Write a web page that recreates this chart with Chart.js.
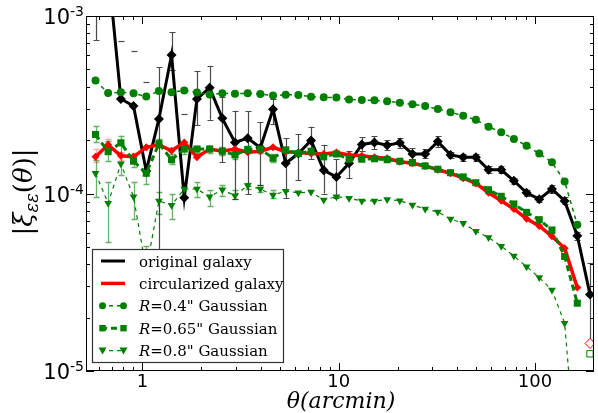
<!DOCTYPE html>
<html>
<head>
<meta charset="utf-8">
<script src="https://cdn.jsdelivr.net/npm/chart.js@4.4.0/dist/chart.umd.min.js"></script>
<style>
html,body{margin:0;padding:0;background:#fff;overflow:hidden;}
#wrap{width:600px;height:413px;}
</style>
</head>
<body>
<div id="wrap"><canvas id="myChart" width="600" height="413"></canvas></div>
<script>
// angular bins (arcmin)
const theta = [0.577,0.669,0.777,0.901,1.046,1.214,1.408,1.634,1.896,2.200,
  2.554,2.963,3.439,3.990,4.630,5.373,6.233,7.234,8.394,9.739,
  11.30,13.12,15.22,17.66,20.49,23.78,27.59,32.01,37.15,43.11,
  50.02,58.04,67.35,78.15,90.68,105.2,122.1,141.7,164.4,190.8];

// original galaxy
const original = [2.5e-3,1.85e-3,3.41e-4,3.11e-4,1.34e-4,2.63e-4,6.03e-4,9.47e-5,3.41e-4,3.94e-4,
  2.65e-4,1.94e-4,2.05e-4,1.81e-4,2.98e-4,1.48e-4,1.68e-4,1.99e-4,1.35e-4,1.24e-4,
  1.48e-4,1.89e-4,1.94e-4,1.87e-4,1.93e-4,1.67e-4,1.67e-4,1.96e-4,1.65e-4,1.60e-4,
  1.60e-4,1.36e-4,1.36e-4,1.18e-4,1.01e-4,9.29e-5,1.06e-4,9.08e-5,5.78e-5,2.70e-5];
const originalLo = [7.32e-4,null,null,null,null,2.5e-5,4.96e-4,null,2.43e-4,2.60e-4,
  1.50e-4,9.31e-5,9.93e-5,1.11e-4,2.46e-4,9.40e-5,1.19e-4,1.56e-4,1.00e-4,9.40e-5,
  1.22e-4,1.74e-4,1.77e-4,1.75e-4,1.80e-4,1.56e-4,1.58e-4,1.83e-4,1.58e-4,1.53e-4,
  1.53e-4,1.30e-4,1.30e-4,1.13e-4,9.7e-5,8.9e-5,1.01e-4,8.7e-5,5.5e-5,1.49e-5];
const originalHi = [5e-3,null,7.23e-4,6.39e-4,4.25e-4,5.13e-4,8.09e-4,2.79e-4,4.92e-4,5.25e-4,
  3.51e-4,2.93e-4,2.90e-4,2.52e-4,3.41e-4,2.05e-4,2.15e-4,2.38e-4,1.88e-4,1.56e-4,
  1.74e-4,2.08e-4,2.11e-4,2.00e-4,2.06e-4,1.80e-4,1.78e-4,2.11e-4,1.72e-4,1.67e-4,
  1.67e-4,1.42e-4,1.42e-4,1.23e-4,1.05e-4,9.7e-5,1.11e-4,9.5e-5,6.1e-5,4.07e-5];

// circularized galaxy
const circular = [1.61e-4,1.88e-4,1.63e-4,1.61e-4,1.82e-4,1.88e-4,1.74e-4,1.94e-4,1.60e-4,1.78e-4,
  1.73e-4,1.78e-4,1.71e-4,1.73e-4,1.82e-4,1.72e-4,1.70e-4,1.68e-4,1.67e-4,1.70e-4,
  1.65e-4,1.63e-4,1.60e-4,1.58e-4,1.51e-4,1.48e-4,1.43e-4,1.36e-4,1.30e-4,1.22e-4,
  1.14e-4,1.01e-4,9.10e-5,8.18e-5,7.20e-5,6.56e-5,5.74e-5,4.91e-5,2.95e-5,null];
const circularLo = [1.50e-4,1.76e-4,1.55e-4,1.53e-4];
const circularHi = [1.78e-4,2.03e-4,1.72e-4,1.70e-4];
const circularNeg = [null,null,null,null,null,null,null,null,null,null,
  null,null,null,null,null,null,null,null,null,null,
  null,null,null,null,null,null,null,null,null,null,
  null,null,null,null,null,null,null,null,null,1.43e-5];

// R=0.4" Gaussian
const gauss04 = [4.33e-4,3.68e-4,3.72e-4,3.67e-4,3.52e-4,3.78e-4,3.72e-4,3.80e-4,3.71e-4,3.61e-4,
  3.67e-4,3.65e-4,3.67e-4,3.63e-4,3.56e-4,3.60e-4,3.59e-4,3.51e-4,3.48e-4,3.47e-4,
  3.39e-4,3.36e-4,3.35e-4,3.31e-4,3.25e-4,3.18e-4,3.11e-4,2.99e-4,2.87e-4,2.74e-4,
  2.60e-4,2.38e-4,2.21e-4,2.03e-4,1.86e-4,1.68e-4,1.50e-4,1.17e-4,6.67e-5,null];

// R=0.65" Gaussian
const gauss065 = [2.15e-4,1.72e-4,1.93e-4,1.52e-4,1.30e-4,1.91e-4,1.55e-4,1.78e-4,1.78e-4,1.78e-4,
  1.73e-4,1.65e-4,1.77e-4,1.78e-4,1.58e-4,1.76e-4,1.68e-4,1.73e-4,1.61e-4,1.67e-4,
  1.56e-4,1.56e-4,1.57e-4,1.55e-4,1.52e-4,1.49e-4,1.43e-4,1.37e-4,1.31e-4,1.24e-4,
  1.15e-4,1.05e-4,9.64e-5,8.73e-5,7.83e-5,7.12e-5,6.23e-5,4.42e-5,2.41e-5,null];
const gauss065Lo = [1.94e-4,1.53e-4,1.67e-4,1.41e-4,1.13e-4,1.83e-4,1.47e-4,1.67e-4,1.70e-4,1.70e-4,
  1.64e-4,1.57e-4,1.69e-4,1.70e-4,1.51e-4,1.69e-4];
const gauss065Hi = [2.41e-4,1.98e-4,2.12e-4,1.63e-4,1.37e-4,2.03e-4,1.67e-4,1.90e-4,1.86e-4,1.86e-4,
  1.82e-4,1.74e-4,1.85e-4,1.86e-4,1.66e-4,1.83e-4];
const gauss065Neg = [null,null,null,null,null,null,null,null,null,null,
  null,null,null,null,null,null,null,null,null,null,
  null,null,null,null,null,null,null,null,null,null,
  null,null,null,null,null,null,null,null,null,1.25e-5];

// R=0.8" Gaussian
const gauss08 = [1.30e-4,8.81e-5,1.47e-4,9.59e-5,3.71e-5,9.08e-5,8.58e-5,1.06e-4,1.06e-4,9.59e-5,
  1.05e-4,9.72e-5,1.11e-4,1.06e-4,9.80e-5,1.03e-4,1.01e-4,1.02e-4,9.19e-5,9.59e-5,
  9.40e-5,9.08e-5,9.08e-5,9.25e-5,9.11e-5,8.62e-5,8.18e-5,7.87e-5,7.18e-5,6.79e-5,
  6.13e-5,5.65e-5,5.05e-5,4.44e-5,3.87e-5,3.36e-5,2.86e-5,1.86e-5,2.6e-6,null];
const gauss08Lo = [9.52e-5,5.33e-5,1.27e-4,7.18e-5,2.5e-5,7.66e-5,7.18e-5,9.68e-5,9.52e-5,8.53e-5,
  9.72e-5,9.31e-5,1.06e-4,1.02e-4,9.45e-5];
const gauss08Hi = [1.54e-4,1.16e-4,1.65e-4,1.16e-4,5.03e-5,1.02e-4,9.93e-5,1.16e-4,1.16e-4,1.04e-4,
  1.11e-4,1.04e-4,1.15e-4,1.11e-4,1.05e-4];

// axes
const xMin = 0.516, xMax = 200;
const yMin = 1e-5, yMax = 1e-3;
const xTickVals = [1, 10, 100];
const xTickText = ['1', '10', '100'];
const yTickVals = [1e-5, 1e-4, 1e-3];
const yTickExp = ['-5', '-4', '-3'];
const minorSteps = [2, 3, 4, 5, 6, 7, 8, 9];

const green = '#007f00';

function pts(vals) {
  return theta.map((t, i) => ({x: t, y: vals[i] == null ? null : vals[i]}));
}

const errorSets = [
  {lo: gauss08Lo, hi: gauss08Hi, color: 'rgba(0,128,0,0.6)', width: 1.3},
  {lo: gauss065Lo, hi: gauss065Hi, color: 'rgba(0,128,0,0.6)', width: 1.3},
  {lo: circularLo, hi: circularHi, color: 'rgba(255,0,0,0.35)', width: 1.3},
  {lo: originalLo, hi: originalHi, color: 'rgba(30,30,30,0.8)', width: 1.2}
];

// error bars (matplotlib style: no bar when lower end is not positive, cap kept)
const errorBars = {
  id: 'errorBars',
  beforeDatasetsDraw(chart) {
    const {ctx, chartArea: a, scales} = chart;
    ctx.save();
    ctx.beginPath();
    ctx.rect(a.left, a.top, a.right - a.left, a.bottom - a.top);
    ctx.clip();
    errorSets.forEach(s => {
      ctx.strokeStyle = s.color;
      ctx.lineWidth = s.width;
      theta.forEach((t, i) => {
        const lo = s.lo[i], hi = s.hi[i];
        if (lo == null && hi == null) return;
        const xp = Math.round(scales.x.getPixelForValue(t)) + 0.5;
        ctx.beginPath();
        if (lo != null && hi != null) {
          ctx.moveTo(xp, scales.y.getPixelForValue(lo));
          ctx.lineTo(xp, scales.y.getPixelForValue(hi));
        }
        [lo, hi].forEach(v => {
          if (v == null) return;
          const yp = Math.round(scales.y.getPixelForValue(v)) + 0.5;
          ctx.moveTo(xp - 3, yp);
          ctx.lineTo(xp + 3, yp);
        });
        ctx.stroke();
      });
    });
    ctx.restore();
  }
};

function marker(ctx, style, x, y, r) {
  ctx.beginPath();
  if (style === 'circle') {
    ctx.arc(x, y, r, 0, Math.PI * 2);
  } else if (style === 'square') {
    ctx.rect(x - r, y - r, 2 * r, 2 * r);
  } else if (style === 'tri') {
    ctx.moveTo(x - r, y - r * 0.8);
    ctx.lineTo(x + r, y - r * 0.8);
    ctx.lineTo(x, y + r);
    ctx.closePath();
  }
  ctx.fill();
}

function drawParts(ctx, parts, x, y) {
  let cx = x;
  parts.forEach(p => {
    ctx.font = p.font;
    ctx.fillText(p.t, cx, y + (p.dy || 0));
    cx += ctx.measureText(p.t).width;
  });
  return cx;
}
function partsWidth(ctx, parts) {
  let w = 0;
  parts.forEach(p => { ctx.font = p.font; w += ctx.measureText(p.t).width; });
  return w;
}

const legendRows = [
  {label: 'original galaxy', color: '#000', width: 3},
  {label: 'circularized galaxy', color: '#ff0000', width: 3.5},
  {label: '=0.4" Gaussian', color: green, width: 1.5, dash: [4, 4], mark: 'circle', r: 3.5},
  {label: '=0.65" Gaussian', color: green, width: 3, dash: [6, 4], mark: 'square', r: 3.2},
  {label: '=0.8" Gaussian', color: green, width: 1.2, dash: [4, 4], mark: 'tri', r: 4}
];

const decor = {
  id: 'decor',
  afterDraw(chart) {
    const {ctx, chartArea: a, scales} = chart;
    ctx.save();
    // frame
    ctx.strokeStyle = '#000';
    ctx.lineWidth = 1;
    ctx.strokeRect(a.left + 0.5, a.top + 0.5, a.right - a.left - 1, a.bottom - a.top - 1);

    // inward ticks
    ctx.beginPath();
    const decadesX = [0.1, 1, 10, 100];
    decadesX.forEach(d => {
      minorSteps.forEach(m => {
        const v = d * m;
        if (v <= xMin || v >= xMax) return;
        const xp = Math.round(scales.x.getPixelForValue(v)) + 0.5;
        ctx.moveTo(xp, a.bottom); ctx.lineTo(xp, a.bottom - 4);
        ctx.moveTo(xp, a.top); ctx.lineTo(xp, a.top + 4);
      });
    });
    xTickVals.forEach(v => {
      const xp = Math.round(scales.x.getPixelForValue(v)) + 0.5;
      ctx.moveTo(xp, a.bottom); ctx.lineTo(xp, a.bottom - 8);
      ctx.moveTo(xp, a.top); ctx.lineTo(xp, a.top + 8);
    });
    [1e-5, 1e-4].forEach(d => {
      minorSteps.forEach(m => {
        const yp = Math.round(scales.y.getPixelForValue(d * m)) + 0.5;
        ctx.moveTo(a.left, yp); ctx.lineTo(a.left + 4, yp);
        ctx.moveTo(a.right, yp); ctx.lineTo(a.right - 4, yp);
      });
    });
    yTickVals.forEach(v => {
      const yp = Math.round(scales.y.getPixelForValue(v)) + 0.5;
      ctx.moveTo(a.left, yp); ctx.lineTo(a.left + 8, yp);
      ctx.moveTo(a.right, yp); ctx.lineTo(a.right - 8, yp);
    });
    ctx.stroke();

    // tick labels
    ctx.fillStyle = '#000';
    ctx.textBaseline = 'alphabetic';
    ctx.textAlign = 'center';
    ctx.font = '18px "DejaVu Sans"';
    xTickVals.forEach((v, i) => {
      ctx.fillText(xTickText[i], scales.x.getPixelForValue(v), a.bottom + 16);
    });
    ctx.textAlign = 'left';
    yTickVals.forEach((v, i) => {
      const yp = scales.y.getPixelForValue(v);
      const parts = [
        {t: '10', font: '21px "DejaVu Sans"', dy: 8},
        {t: yTickExp[i], font: '14px "DejaVu Sans"', dy: 0}
      ];
      const w = partsWidth(ctx, parts);
      drawParts(ctx, parts, a.left - 2 - w, yp);
    });

    // legend
    const bx = 92.5, by = 249.5, bw = 191, bh = 113;
    ctx.fillStyle = '#fff';
    ctx.fillRect(bx, by, bw, bh);
    ctx.strokeStyle = '#333';
    ctx.lineWidth = 1.2;
    ctx.strokeRect(bx, by, bw, bh);
    legendRows.forEach((row, k) => {
      const ry = 261 + k * 22.4;
      ctx.strokeStyle = row.color;
      ctx.lineWidth = row.width;
      ctx.setLineDash(row.dash || []);
      ctx.beginPath();
      ctx.moveTo(101, ry); ctx.lineTo(125, ry);
      ctx.stroke();
      ctx.setLineDash([]);
      if (row.mark) {
        ctx.fillStyle = row.color;
        marker(ctx, row.mark, 102.5, ry, row.r);
        marker(ctx, row.mark, 123.5, ry, row.r);
      }
      ctx.fillStyle = '#000';
      const parts = row.mark
        ? [{t: 'R', font: 'italic 15px "DejaVu Serif"'}, {t: row.label, font: '15px "DejaVu Serif"'}]
        : [{t: row.label, font: '15px "DejaVu Serif"'}];
      drawParts(ctx, parts, 139, ry + 5.5);
    });

    // axis titles
    ctx.fillStyle = '#000';
    ctx.font = 'italic 22px "DejaVu Serif"';
    ctx.textAlign = 'center';
    ctx.fillText('\u03B8(arcmin)', 341, 408);

    ctx.save();
    ctx.translate(32, 192);
    ctx.rotate(-Math.PI / 2);
    ctx.textAlign = 'left';
    const yParts = [
      {t: '|', font: '26px "DejaVu Serif"'},
      {t: '\u03BE', font: 'italic 26px "DejaVu Serif"'},
      {t: '\u03B5\u03B5', font: 'italic 18px "DejaVu Serif"', dy: 6},
      {t: '(', font: '26px "DejaVu Serif"'},
      {t: '\u03B8', font: 'italic 26px "DejaVu Serif"'},
      {t: ')|', font: '26px "DejaVu Serif"'}
    ];
    const yw = partsWidth(ctx, yParts);
    drawParts(ctx, yParts, -yw / 2, 0);
    ctx.restore();

    ctx.restore();
  }
};

const ctx = document.getElementById('myChart');
new Chart(ctx, {
  type: 'line',
  data: {
    datasets: [
      {
        label: 'R=0.8" Gaussian', data: pts(gauss08), order: 1,
        borderColor: green, borderWidth: 1.2, borderDash: [4, 4],
        pointStyle: 'triangle', rotation: 180, pointRadius: 4.5,
        pointBackgroundColor: green, pointBorderColor: green, pointBorderWidth: 0
      },
      {
        label: 'R=0.65" Gaussian', data: pts(gauss065), order: 2,
        borderColor: green, borderWidth: 3, borderDash: [6, 4],
        pointStyle: 'rect', pointRadius: 5,
        pointBackgroundColor: green, pointBorderColor: green, pointBorderWidth: 0
      },
      {
        label: 'R=0.65" Gaussian (negative)', data: pts(gauss065Neg), order: 2,
        showLine: false, pointStyle: 'rect', pointRadius: 4.5,
        pointBackgroundColor: '#fff', pointBorderColor: green, pointBorderWidth: 1
      },
      {
        label: 'R=0.4" Gaussian', data: pts(gauss04), order: 3,
        borderColor: green, borderWidth: 1.5, borderDash: [4, 4],
        pointStyle: 'circle', pointRadius: 4,
        pointBackgroundColor: green, pointBorderColor: green, pointBorderWidth: 0
      },
      {
        label: 'circularized galaxy', data: pts(circular), order: 4,
        borderColor: '#ff0000', borderWidth: 3.5,
        pointStyle: 'rectRot', pointRadius: 4,
        pointBackgroundColor: '#ff0000', pointBorderColor: '#ff0000', pointBorderWidth: 0
      },
      {
        label: 'circularized galaxy (negative)', data: pts(circularNeg), order: 4,
        showLine: false, pointStyle: 'rectRot', pointRadius: 5,
        pointBackgroundColor: '#fff', pointBorderColor: '#ff0000', pointBorderWidth: 1
      },
      {
        label: 'original galaxy', data: pts(original), order: 5,
        borderColor: '#000', borderWidth: 3,
        pointStyle: 'rectRot', pointRadius: 5,
        pointBackgroundColor: '#000', pointBorderColor: '#000', pointBorderWidth: 0
      }
    ]
  },
  options: {
    responsive: false,
    animation: false,
    events: [],
    layout: {padding: {top: 16, left: 0, right: 0, bottom: 0}},
    elements: {line: {tension: 0}},
    datasets: {line: {clip: 0, spanGaps: false}},
    plugins: {legend: {display: false}, tooltip: {enabled: false}},
    scales: {
      x: {
        type: 'logarithmic', min: xMin, max: xMax,
        grid: {display: false}, border: {display: false},
        ticks: {display: false},
        afterFit(scale) { scale.height = 42; }
      },
      y: {
        type: 'logarithmic', min: yMin, max: yMax,
        grid: {display: false}, border: {display: false},
        ticks: {display: false},
        afterFit(scale) { scale.width = 86; }
      }
    }
  },
  plugins: [errorBars, decor]
});
</script>
</body>
</html>
